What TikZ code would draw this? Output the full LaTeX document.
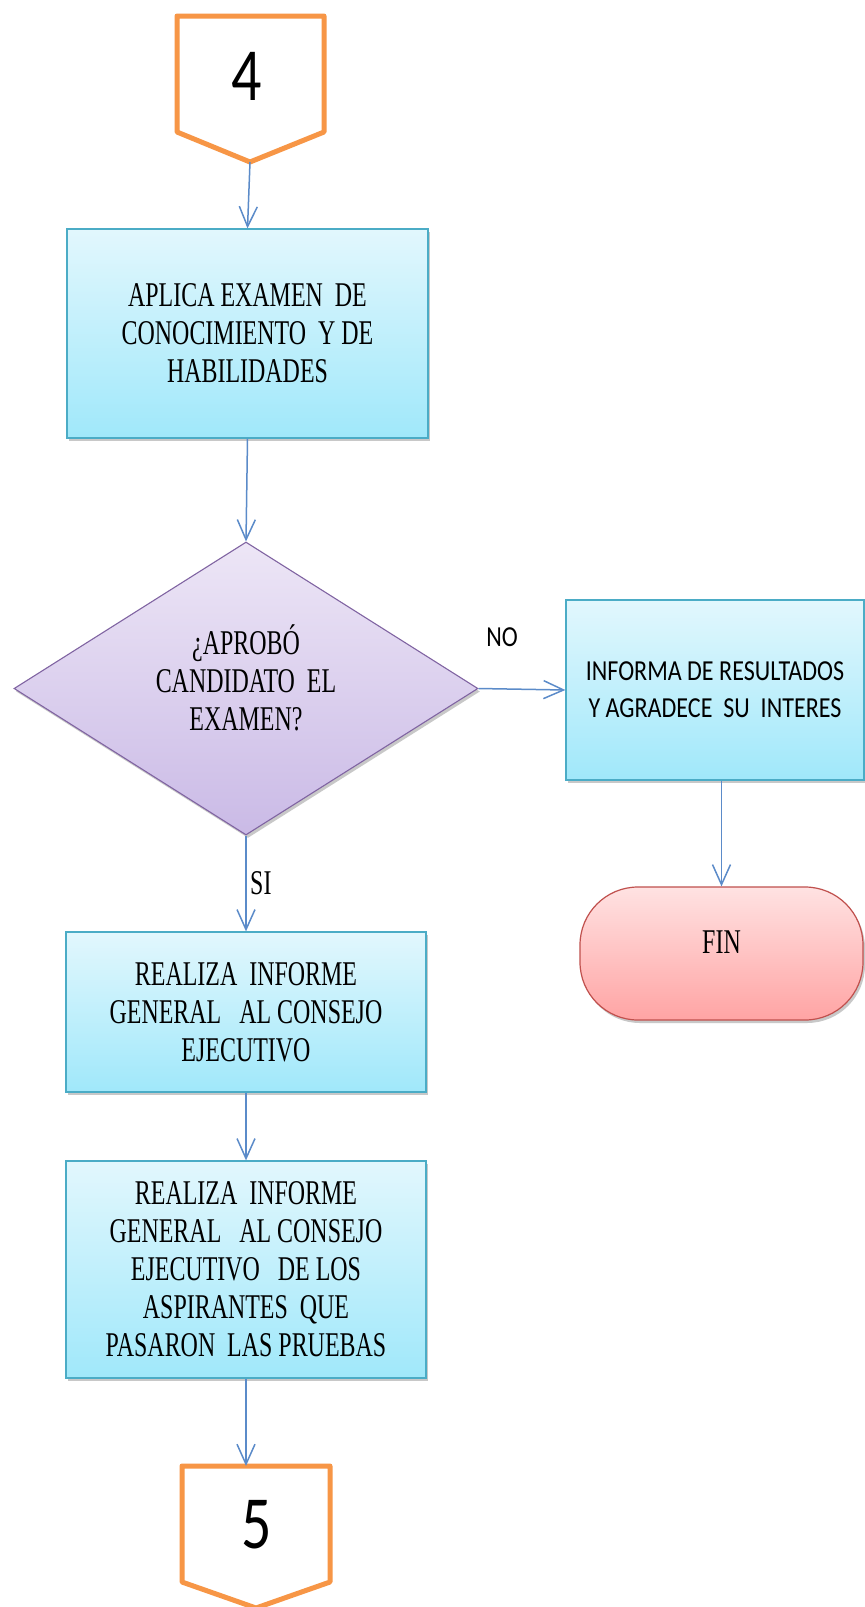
\documentclass[tikz,border=0pt]{standalone}
\usepackage{fontspec}
\setmainfont{Liberation Serif}
\newfontfamily\serifc[FakeStretch=0.69]{Liberation Serif}
\newfontfamily\sansc[FakeStretch=0.83]{Carlito}
\newfontfamily\digitf[FakeStretch=0.8]{Carlito}
\usetikzlibrary{arrows.meta,shapes.geometric,shadows,calc}
\definecolor{boxtop}{RGB}{226,247,253}
\definecolor{boxbot}{RGB}{160,232,250}
\definecolor{boxedge}{RGB}{75,172,198}
\definecolor{dtop}{RGB}{237,230,246}
\definecolor{dbot}{RGB}{202,186,230}
\definecolor{dedge}{RGB}{128,100,162}
\definecolor{ftop}{RGB}{255,226,226}
\definecolor{fbot}{RGB}{255,164,164}
\definecolor{fedge}{RGB}{192,80,77}
\definecolor{pentc}{RGB}{247,150,70}
\definecolor{arrowc}{RGB}{91,139,201}
\tikzset{
  shad/.style={drop shadow={shadow xshift=2pt,shadow yshift=-3pt,opacity=0.3,fill=black!70}},
  procbox/.style={rectangle,draw=boxedge,line width=1.3pt,top color=boxtop,bottom color=boxbot,
    inner sep=0pt,align=center,shad,font=\serifc\fontsize{34.7pt}{38pt}\selectfont},
  sansbox/.style={procbox,font=\sansc\fontsize{29pt}{37pt}\selectfont},
  decision/.style={diamond,aspect=1.58,draw=dedge,line width=1.1pt,top color=dtop,bottom color=dbot,
    inner sep=0pt,align=center,shad,font=\serifc\fontsize{34.7pt}{38pt}\selectfont},
  endbox/.style={rectangle,rounded corners=58pt,draw=fedge,line width=1.2pt,top color=ftop,bottom color=fbot,
    inner sep=0pt,align=center,shad,font=\serifc\fontsize{34.7pt}{38pt}\selectfont},
  pent/.style={draw=pentc,line width=5pt,line join=round,fill=white},
  digit/.style={font=\digitf\fontsize{75pt}{75pt}\selectfont,inner sep=0pt},
  conn/.style={draw=arrowc,line width=1.5pt,-{Straight Barb[length=20pt,width=18pt,line width=1.5pt]}},
  lab/.style={inner sep=0pt}
}
\begin{document}
\begin{tikzpicture}[x=1pt,y=-1pt]
\useasboundingbox[fill=white] (0,0) rectangle (865,1607);
% connector 4
\draw[pent] (177,16) -- (324,16) -- (324,132) -- (250,162) -- (177,132) -- cycle;
\coordinate (t4) at (250,162);
\node[digit,anchor=base] (n4) at (247,100) {4};
% boxes
\node[procbox,minimum width=361pt,minimum height=209pt] (b1) at (247.5,333.5)
  {APLICA EXAMEN\ \ DE\\CONOCIMIENTO\ \ Y DE\\HABILIDADES};
\node[decision,minimum width=464pt,minimum height=293pt,text depth=22pt] (d) at (246,688.5)
  {¿APROBÓ\\CANDIDATO\ \ EL\\EXAMEN?};
\node[sansbox,minimum width=298pt,minimum height=180pt] (r) at (715,690)
  {INFORMA DE RESULTADOS\\Y AGRADECE\ \ SU\ \ INTERES};
\node[endbox,minimum width=283pt,minimum height=133pt,text depth=23pt] (fin) at (721.5,953.5) {FIN};
\node[procbox,minimum width=360pt,minimum height=160pt] (b2) at (246,1012)
  {REALIZA\ \ INFORME\\GENERAL\ \ \ AL CONSEJO\\EJECUTIVO};
\node[procbox,minimum width=360pt,minimum height=217pt] (b3) at (246,1269.5)
  {REALIZA\ \ INFORME\\GENERAL\ \ \ AL CONSEJO\\EJECUTIVO\ \ \ DE LOS\\ASPIRANTES\ \ QUE\\PASARON\ \ LAS PRUEBAS};
% connector 5
\draw[pent] (182,1466) -- (330,1466) -- (330,1582) -- (256,1608) -- (182,1582) -- cycle;
\coordinate (p5) at (246,1466);
\node[digit,anchor=base] (n5) at (257,1548) {5};
% labels
\node[lab,anchor=base,font=\sansc\fontsize{29pt}{37pt}\selectfont] (no) at (502,646) {NO};
\node[lab,anchor=base west,font=\serifc\fontsize{34.7pt}{38pt}\selectfont] (si) at (250,894) {SI};
% connectors
\draw[conn] (t4) -- (b1.north);
\draw[conn] (b1.south) -- (d.north);
\draw[conn] (d.east) -- (r.west);
\draw[conn] (r.south -| fin.north) -- (fin.north);
\draw[conn] (d.south) -- (b2.north);
\draw[conn] (b2.south) -- (b3.north);
\draw[conn] (b3.south) -- (p5);
\end{tikzpicture}
\end{document}
